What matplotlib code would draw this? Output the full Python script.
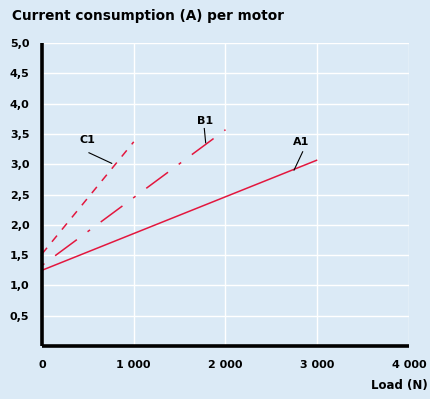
import matplotlib
matplotlib.use("Agg")
import matplotlib.pyplot as plt

# Data
a1_x = [0, 3000]
a1_y = [1.25, 3.07]
b1_x = [0, 2000]
b1_y = [1.33, 3.57]
c1_x = [0, 1000]
c1_y = [1.52, 3.37]

x_ticks = [0, 1000, 2000, 3000, 4000]
x_tick_labels = ["0", "1 000", "2 000", "3 000", "4 000"]
y_ticks = [0.5, 1.0, 1.5, 2.0, 2.5, 3.0, 3.5, 4.0, 4.5, 5.0]
y_tick_labels = ["0,5", "1,0", "1,5", "2,0", "2,5", "3,0", "3,5", "4,0", "4,5", "5,0"]

labels = ["A1", "B1", "C1"]
label_pos = [(2823, 3.37), (1777, 3.72), (490, 3.40)]
leader_lines = [((2841, 3.206), (2747, 2.904)),
                ((1769, 3.59), (1784, 3.355)),
                ((512, 3.19), (760, 3.015))]

BG = "#dbeaf6"
RED = "#e3173e"

plt.rcParams['font.family'] = ['DejaVu Sans']
fig = plt.figure(figsize=(4.31, 3.99), dpi=100, facecolor=BG)
ax = fig.add_axes([0.0974, 0.1328, 0.8516, 0.7592])
ax.set_facecolor(BG)

ax.set_xlim(0, 4000)
ax.set_ylim(0, 5.0)
ax.set_xticks(x_ticks)
ax.set_xticklabels(x_tick_labels, fontsize=8, fontweight='bold')
ax.set_yticks(y_ticks)
ax.set_yticklabels(y_tick_labels, fontsize=8, fontweight='bold')
ax.tick_params(length=0, pad=9)
ax.tick_params(axis='x', pad=10)

ax.grid(True, color='white', linewidth=1.0)
ax.set_axisbelow(True)
for s in ['top', 'right']:
    ax.spines[s].set_visible(False)
for s in ['left', 'bottom']:
    ax.spines[s].set_linewidth(2.6)
    ax.spines[s].set_color('black')
    ax.spines[s].set_capstyle('butt')

lw = 1.1
ax.plot(a1_x, a1_y, color=RED, linewidth=lw, solid_capstyle='butt')
b_dash, b_gap, b_dot = 17.7, 8.7, 2.0
ax.plot(b1_x, b1_y, color=RED, linewidth=lw,
        linestyle=(b_dash + b_gap, (b_dash, b_gap, b_dot, b_gap)),
        dash_capstyle='butt', clip_on=False, zorder=1.5)
ax.plot(c1_x, c1_y, color=RED, linewidth=lw, linestyle=(0, (5.2, 5.1)),
        dash_capstyle='butt', clip_on=False, zorder=1.5)

for lab, pos, ((x0, y0), (x1, y1)) in zip(labels, label_pos, leader_lines):
    ax.text(pos[0], pos[1], lab, fontsize=8, fontweight='bold', ha='center', va='center')
    ax.plot([x0, x1], [y0, y1], color='black', linewidth=0.8)

fig.text(12 / 431, 1 - 16 / 399, "Current consumption (A) per motor", fontsize=9.8,
         fontweight='bold', ha='left', va='center')
fig.text(428 / 431, 1 - 385 / 399, "Load (N)", fontsize=8.5, fontweight='bold',
         ha='right', va='center')

fig.savefig("out.png", dpi=100, facecolor=BG)
